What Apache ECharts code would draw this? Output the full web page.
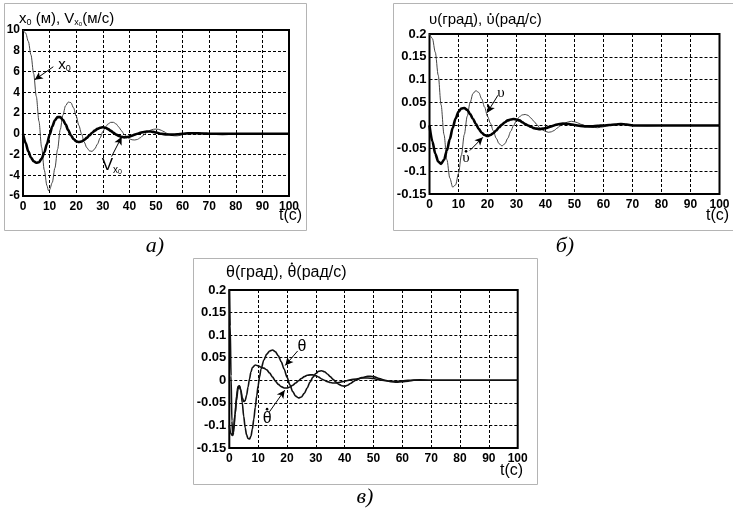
<!DOCTYPE html>
<html><head><meta charset="utf-8">
<script src="https://cdn.jsdelivr.net/npm/echarts@6/dist/echarts.min.js"></script>
<style>html,body{margin:0;padding:0;background:#fff}#c{width:733px;height:513px}</style>
</head><body><div id="c"></div>
<script>
// ---- data ----
const tTicks = [0, 100, 10];               // min, max, interval of time axis
const yTicksA = [-6, 10, 2];
const yTicksB = [-0.15, 0.2, 0.05];
const yTicksC = [-0.15, 0.2, 0.05];

const titleA = '{n|x}{s|0}{n| (м), V}{s|x}{ss|0}{n|(м/с)}';
const titleB = ['υ(град), ', 'υ', '(рад/с)'];   // middle part carries a dot
const titleC = ['θ(град), ', 'θ', '(рад/с)'];
const xName = 't(c)';
const panelLabels = ['а)', 'б)', 'в)'];

// panel a
const x0 = [[0,10],[1,9.7],[2,8.9],[3,7.6],[4,5.8],[5,3.6],[6,1.2],[7,-1.3],[8,-3.5],[9,-5.0],[9.6,-5.5],[10,-5.4],[11,-4.7],[12,-3.3],[13,-1.5],[14,0.4],[15,1.8],[16,2.7],[17,3.05],[18,3.0],[19,2.5],[20,1.7],[21,0.8],[22,0],[23,-0.8],[24,-1.35],[25,-1.65],[26,-1.7],[27,-1.45],[28,-1.0],[29,-0.4],[30,0.2],[31,0.65],[32,0.95],[33,1.1],[34,1.1],[35,0.95],[36,0.65],[37,0.3],[38,-0.05],[39,-0.3],[40,-0.5],[41,-0.58],[42,-0.6],[43,-0.55],[44,-0.4],[45,-0.2],[46,0],[47,0.2],[48,0.35],[49,0.43],[50,0.45],[51,0.42],[52,0.33],[53,0.2],[54,0.05],[55,-0.08],[56,-0.17],[57,-0.2],[58,-0.2],[59,-0.16],[60,-0.08],[62,0.05],[64,0.12],[66,0.1],[68,0.03],[70,-0.03],[72,-0.05],[74,-0.03],[76,0],[80,0.01],[85,0],[100,0]];
const vx0 = [[0,0],[1,-0.9],[2,-1.7],[3,-2.3],[4,-2.65],[5,-2.8],[6,-2.75],[7,-2.4],[8,-1.8],[9,-1.0],[10,-0.1],[11,0.7],[12,1.3],[13,1.6],[14,1.6],[15,1.35],[16,0.9],[17,0.35],[18,-0.15],[19,-0.5],[20,-0.72],[21,-0.8],[22,-0.75],[23,-0.6],[24,-0.4],[25,-0.15],[26,0.1],[27,0.3],[28,0.47],[29,0.58],[30,0.62],[31,0.58],[32,0.45],[33,0.28],[34,0.1],[35,-0.08],[36,-0.2],[37,-0.3],[38,-0.35],[39,-0.33],[40,-0.27],[41,-0.18],[42,-0.08],[43,0],[44,0.08],[45,0.15],[46,0.2],[47,0.22],[48,0.22],[49,0.18],[50,0.12],[52,0],[54,-0.07],[56,-0.08],[58,-0.05],[60,0],[62,0.04],[64,0.05],[66,0.04],[68,0.02],[70,0],[75,-0.01],[80,0],[100,0]];
// panel b
const ups = [[0,0.2],[1,0.19],[2,0.16],[3,0.11],[4,0.045],[5,-0.02],[6,-0.075],[7,-0.115],[8,-0.135],[9,-0.13],[10,-0.105],[11,-0.065],[12,-0.02],[13,0.02],[14,0.05],[15,0.07],[16,0.076],[17,0.072],[18,0.058],[19,0.04],[20,0.02],[21,0.005],[22,-0.012],[23,-0.028],[24,-0.04],[25,-0.045],[26,-0.04],[27,-0.028],[28,-0.013],[29,0],[30,0.011],[31,0.019],[32,0.023],[33,0.024],[34,0.022],[35,0.016],[36,0.009],[37,0.002],[38,-0.005],[39,-0.01],[40,-0.013],[41,-0.015],[42,-0.014],[43,-0.011],[44,-0.006],[45,-0.001],[46,0.003],[47,0.006],[48,0.008],[49,0.009],[50,0.008],[51,0.006],[52,0.003],[53,0.001],[54,-0.002],[55,-0.003],[56,-0.004],[58,-0.005],[60,-0.003],[62,0],[64,0.002],[66,0.003],[68,0.002],[70,0],[75,-0.001],[80,0],[100,0]];
const upsDot = [[0,0],[1,-0.035],[2,-0.062],[3,-0.079],[4,-0.084],[5,-0.075],[6,-0.055],[7,-0.03],[8,-0.005],[9,0.015],[10,0.03],[11,0.037],[12,0.038],[13,0.034],[14,0.025],[15,0.014],[16,0.003],[17,-0.008],[18,-0.016],[19,-0.021],[20,-0.023],[21,-0.021],[22,-0.017],[23,-0.011],[24,-0.004],[25,0.002],[26,0.007],[27,0.011],[28,0.013],[29,0.014],[30,0.013],[31,0.011],[32,0.007],[33,0.003],[34,0],[35,-0.003],[36,-0.006],[37,-0.007],[38,-0.008],[39,-0.007],[40,-0.006],[42,-0.002],[44,0.002],[46,0.004],[48,0.003],[50,0.001],[52,-0.001],[54,-0.002],[56,-0.002],[58,-0.001],[60,0],[62,0.001],[64,0.002],[66,0.003],[68,0.002],[70,0],[100,0]];
// panel c
const thetaDot = [[0,0.2],[0.3,0.12],[0.6,0.01],[0.9,-0.09],[1.2,-0.122],[1.5,-0.115],[2,-0.075],[2.5,-0.035],[3,-0.014],[3.5,-0.012],[4,-0.022],[4.5,-0.038],[5,-0.047],[5.5,-0.045],[6,-0.033],[6.5,-0.015],[7,0.003],[7.5,0.018],[8,0.028],[9,0.034],[10,0.032],[11,0.029],[12,0.027],[13,0.023],[14,0.016],[15,0.007],[16,-0.002],[17,-0.009],[18,-0.014],[19,-0.017],[20,-0.017],[21,-0.015],[22,-0.011],[23,-0.006],[24,-0.001],[25,0.004],[26,0.008],[27,0.011],[28,0.012],[29,0.012],[30,0.01],[31,0.007],[32,0.003],[33,0],[34,-0.003],[35,-0.005],[36,-0.006],[37,-0.006],[38,-0.005],[40,-0.002],[42,0.001],[44,0.003],[46,0.005],[48,0.005],[50,0.004],[52,0.001],[54,-0.001],[56,-0.002],[58,-0.002],[60,-0.001],[62,0],[66,0.001],[70,0],[100,0]];
const theta = [[0,-0.1],[0.5,-0.118],[1,-0.122],[1.5,-0.105],[2,-0.075],[2.5,-0.045],[3,-0.02],[3.5,-0.012],[4,-0.022],[4.5,-0.05],[5,-0.08],[5.5,-0.105],[6,-0.121],[6.5,-0.129],[7,-0.13],[7.5,-0.124],[8,-0.108],[8.5,-0.086],[9,-0.06],[9.5,-0.035],[10,-0.012],[10.5,0.008],[11,0.025],[12,0.045],[13,0.058],[14,0.065],[15,0.067],[16,0.063],[17,0.054],[18,0.041],[19,0.025],[20,0.007],[21,-0.01],[22,-0.025],[23,-0.035],[24,-0.039],[25,-0.037],[26,-0.029],[27,-0.017],[28,-0.004],[29,0.007],[30,0.015],[31,0.02],[32,0.021],[33,0.019],[34,0.014],[35,0.008],[36,0.002],[37,-0.004],[38,-0.009],[39,-0.012],[40,-0.013],[41,-0.011],[42,-0.007],[43,-0.003],[44,0.001],[46,0.006],[48,0.009],[49,0.009],[50,0.008],[52,0.004],[54,0],[56,-0.003],[58,-0.004],[60,-0.003],[62,-0.002],[64,0],[70,0],[100,0]];

// annotation arrows [from, to] and label anchors (data coordinates)
const arrowX0 = [[11.4,6.46],[4.4,5.2]];   const labelX0 = [15.6,6.6];
const arrowVx0 = [[33.3,-2.2],[37.1,-0.3]]; const labelVx0 = [33.4,-3.0];
const arrowUps = [[23.6,0.066],[19.9,0.028]]; const labelUps = [24.6,0.071];
const arrowUpsDot = [[13.9,-0.055],[18.4,-0.026]]; const labelUpsDot = [12.6,-0.072];
const arrowTheta = [[23.7,0.065],[19.4,0.033]]; const labelTheta = [25.2,0.075];
const arrowThetaDot = [[13.9,-0.07],[19.2,-0.022]]; const labelThetaDot = [13.1,-0.085];

// ---- chart ----
const SANS = '"Liberation Sans", Arial, sans-serif';
const SERIF = '"Liberation Serif", "DejaVu Serif", serif';
const chart = echarts.init(document.getElementById('c'), null, {renderer:'canvas'});
const mctx = document.createElement('canvas').getContext('2d');
function tw(text, font) { mctx.font = font; return mctx.measureText(text).width; }

const grids = [
  {left:23, top:30, width:266, height:166},
  {left:429.5, top:34, width:290, height:160},
  {left:229.3, top:290, width:288.4, height:158}
].map(g => Object.assign(g, {show:true, borderColor:'#000', borderWidth:2, backgroundColor:'rgba(0,0,0,0)', containLabel:false}));

const dashed = {show:true, lineStyle:{color:'#000', width:1, type:[3,2]}};
const labelStyle = {color:'#000', fontFamily:SANS, fontWeight:'bold', fontSize:12};

const xAxes = [0,1,2].map(i => ({
  type:'value', gridIndex:i, min:tTicks[0], max:tTicks[1], interval:tTicks[2],
  axisLine:{show:false}, axisTick:{show:false}, splitLine:dashed,
  axisLabel:Object.assign({}, labelStyle, {margin:5})
}));
const yAxes = [yTicksA, yTicksB, yTicksC].map((t, i) => ({
  type:'value', gridIndex:i, min:t[0], max:t[1], interval:t[2],
  axisLine:{show:false}, axisTick:{show:false}, splitLine:dashed,
  axisLabel:Object.assign({}, labelStyle, {margin:3, fontSize: i === 0 ? 12 : 13,
    formatter: v => String(Math.round(v*1000)/1000)})
}));

function arrow(a) {
  return {
    silent:true, symbol:['none','arrow'], symbolSize:[6,8], animation:false,
    lineStyle:{color:'#000', width:1, type:'solid'}, label:{show:false},
    emphasis:{disabled:true},
    data:[[{coord:a[0]},{coord:a[1]}]]
  };
}
// label (optionally with a dot above) placed at a data coordinate
function lbl(pos, text, rich, dotOffset) {
  const data = [{coord:pos, label:{show:true, position:'inside', formatter:text, rich:rich}}];
  if (dotOffset) data.push({coord:pos, symbol:'circle', symbolSize:2.6, symbolOffset:dotOffset, itemStyle:{color:'#000'}, label:{show:false}});
  return {
    silent:true, symbol:'rect', symbolSize:1, itemStyle:{color:'rgba(0,0,0,0)'}, animation:false,
    label:{show:true, position:'inside', color:'#000'},
    data:data
  };
}
function line(data, i, thick, extra) {
  return Object.assign({
    type:'line', xAxisIndex:i, yAxisIndex:i, data:data, showSymbol:false, symbol:'none',
    smooth:0.3, smoothMonotone:'x', animation:false, silent:true,
    lineStyle:{color: thick ? '#000' : '#444', width: thick ? 2.6 : 1}, z: thick ? 3 : 2
  }, extra || {});
}

const plainRich = (family, size) => ({c:{fontSize:size, fontFamily:family, color:'#000'}});

const series = [
  line(x0, 0, false, {markLine:arrow(arrowX0), markPoint:lbl(labelX0, '{b|x}{s|0}',
    {b:{fontSize:15,fontFamily:SANS,color:'#000'}, s:{fontSize:9,fontFamily:SANS,color:'#000',padding:[7,0,0,0]}})}),
  line(vx0, 0, true, {markLine:arrow(arrowVx0), markPoint:lbl(labelVx0, '{b|V}{s|x}{ss|0}',
    {b:{fontSize:17,fontFamily:SANS,color:'#000'}, s:{fontSize:10,fontFamily:SANS,color:'#000',padding:[10,0,0,0]}, ss:{fontSize:7,fontFamily:SANS,color:'#000',padding:[14,0,0,0]}})}),
  line(ups, 1, false, {markLine:arrow(arrowUps), markPoint:lbl(labelUps, '{c|υ}', plainRich(SERIF,15))}),
  line(upsDot, 1, true, {markLine:arrow(arrowUpsDot), markPoint:lbl(labelUpsDot, '{c|υ}', plainRich(SERIF,15), [0,-7])}),
  line(theta, 2, false, {lineStyle:{color:'#111', width:1.6}, markLine:arrow(arrowTheta), markPoint:lbl(labelTheta, '{c|θ}', plainRich(SANS,16))}),
  line(thetaDot, 2, false, {lineStyle:{color:'#111', width:1.6}, markLine:arrow(arrowThetaDot), markPoint:lbl(labelThetaDot, '{c|θ}', plainRich(SANS,16), [0,-9.5])})
];

function txt(x, y, text, font, align) {
  return {type:'text', x:x, y:y, silent:true, style:{text:text, font:font, fill:'#000', textAlign:align||'left', textVerticalAlign:'middle'}};
}
function dottedTitle(x, y, parts, size, dotDy) {
  const font = size + 'px ' + SANS;
  const els = [];
  let cx = x;
  parts.forEach((p, k) => {
    els.push(txt(cx, y, p, font));
    const w = tw(p, font);
    if (k === 1) els.push({type:'circle', silent:true, shape:{cx: cx + w/2, cy: y + dotDy, r:1.1}, style:{fill:'#000'}});
    cx += w;
  });
  return els;
}
const graphic = [
  {type:'rect', silent:true, shape:{x:4.5, y:3.5, width:302, height:227}, style:{fill:'none', stroke:'#b4b4b4', lineWidth:1}},
  {type:'rect', silent:true, shape:{x:393.5, y:3.5, width:345, height:227}, style:{fill:'none', stroke:'#b4b4b4', lineWidth:1}},
  {type:'rect', silent:true, shape:{x:193.5, y:258.5, width:344, height:226}, style:{fill:'none', stroke:'#b4b4b4', lineWidth:1}},
  {type:'text', x:19, y:19, silent:true, style:{text:titleA, fill:'#000', textVerticalAlign:'middle',
    rich:{n:{fontSize:15, fontFamily:SANS, fill:'#000'}, s:{fontSize:9, fontFamily:SANS, fill:'#000', padding:[7,0,0,0]}, ss:{fontSize:6, fontFamily:SANS, fill:'#000', padding:[10,0,0,0]}}}},
  ...dottedTitle(429, 20, titleB, 15, -6),
  ...dottedTitle(226, 273, titleC, 16, -9.5),
  txt(279, 216, xName, '16px ' + SANS),
  txt(706, 216, xName, '16px ' + SANS),
  txt(500, 471, xName, '16px ' + SANS),
  txt(155, 246, panelLabels[0], 'italic 22px ' + SERIF, 'center'),
  txt(565, 246, panelLabels[1], 'italic 22px ' + SERIF, 'center'),
  txt(365, 497, panelLabels[2], 'italic 22px ' + SERIF, 'center')
];

chart.setOption({
  animation:false,
  backgroundColor:'#fff',
  grid:grids, xAxis:xAxes, yAxis:yAxes, series:series, graphic:graphic
});
</script></body></html>
